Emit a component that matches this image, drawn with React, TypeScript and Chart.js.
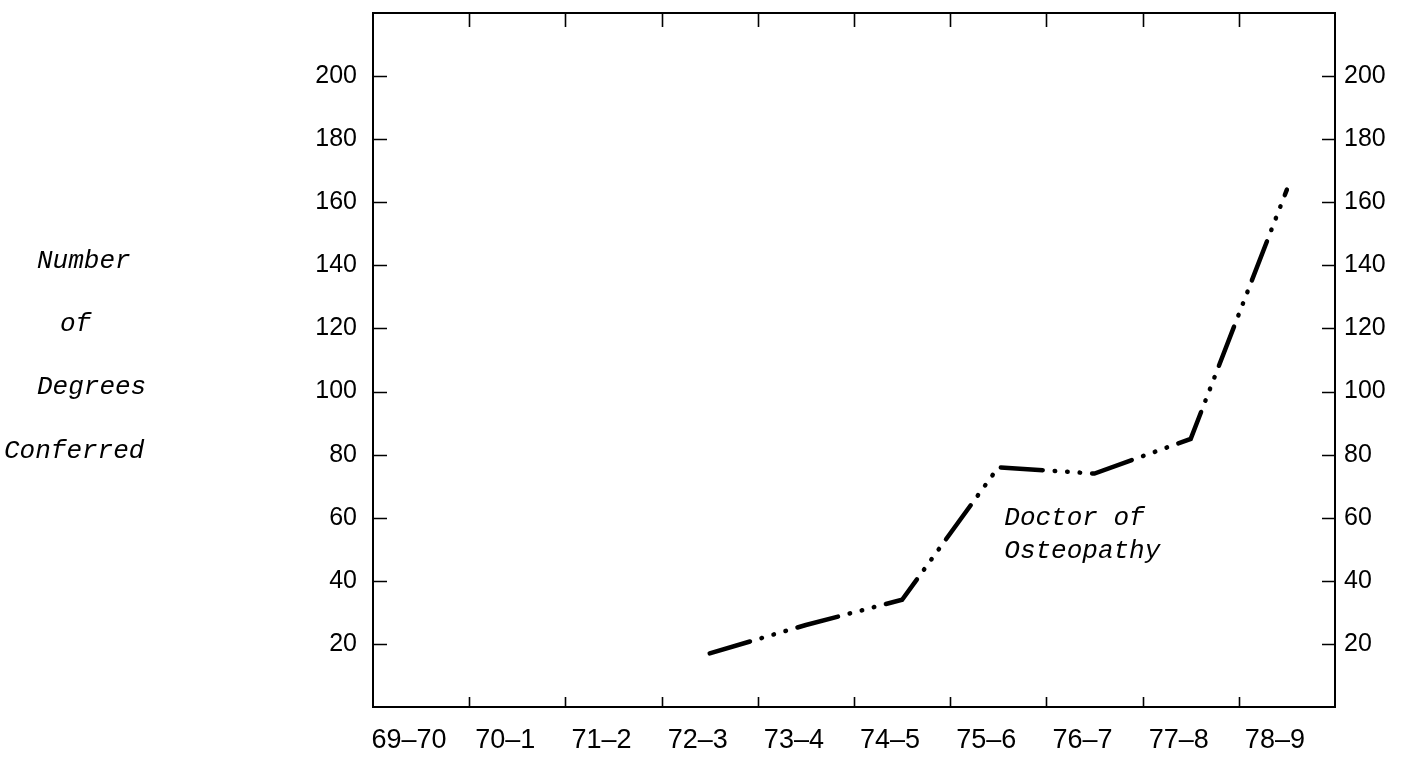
import React, { useEffect, useRef } from "react";
import { Chart, registerables } from "chart.js";

Chart.register(...registerables);

const CATEGORIES: string[] = ["69–70", "70–1", "71–2", "72–3", "73–4", "74–5", "75–6", "76–7", "77–8", "78–9"];
const DO_DEGREES: (number | null)[] = [null, null, null, 17, 26, 34, 76, 74, 85, 164];
const Y_MIN = 0;
const Y_MAX = 220;
const Y_STEP = 20;
const AXIS_TITLE_LINES: string[] = ["Number", "of", "Degrees", "Conferred"];
const ANNOTATION_LINES: string[] = ["Doctor of", "Osteopathy"];
const ANNOTATION_AT = { category: 6, value: 60 };

const Y_TICK_FONT = { family: "'Liberation Sans', Arial, sans-serif", size: 25 };
const X_TICK_FONT = { family: "'Liberation Sans', Arial, sans-serif", size: 27 };
const ITALIC_FONT = "italic 26px 'Liberation Mono', 'DejaVu Sans Mono', monospace";

const framePlugin = {
  id: "framePlugin",
  afterDraw(chart: any) {
    const { ctx, chartArea } = chart;
    const x = chart.scales.x;
    const y = chart.scales.y;
    ctx.save();
    ctx.strokeStyle = "#000";
    ctx.lineWidth = 2;
    ctx.strokeRect(chartArea.left, chartArea.top, chartArea.right - chartArea.left, chartArea.bottom - chartArea.top);
    ctx.lineWidth = 1.6;
    ctx.beginPath();
    y.ticks.forEach((t: any) => {
      if (t.value <= Y_MIN || t.value >= Y_MAX) return;
      const py = Math.round(y.getPixelForValue(t.value)) + 0.5;
      ctx.moveTo(chartArea.left, py);
      ctx.lineTo(chartArea.left + 14, py);
      ctx.moveTo(chartArea.right, py);
      ctx.lineTo(chartArea.right - 13, py);
    });
    for (let i = 1; i < CATEGORIES.length; i++) {
      const px = Math.round((x.getPixelForValue(i - 1) + x.getPixelForValue(i)) / 2) + 0.5;
      ctx.moveTo(px, chartArea.top);
      ctx.lineTo(px, chartArea.top + 14);
      ctx.moveTo(px, chartArea.bottom);
      ctx.lineTo(px, chartArea.bottom - 10);
    }
    ctx.stroke();

    ctx.fillStyle = "#000";
    ctx.font = ITALIC_FONT;
    ctx.textBaseline = "middle";
    ctx.textAlign = "left";
    const ax = x.getPixelForValue(ANNOTATION_AT.category) + 6;
    const ay = y.getPixelForValue(ANNOTATION_AT.value);
    ANNOTATION_LINES.forEach((line, i) => {
      ctx.fillText(line, ax, ay + i * 33);
    });
    const titleX = [37, 60, 37, 4];
    const titleVals = [140, 120, 100, 80];
    AXIS_TITLE_LINES.forEach((line, i) => {
      ctx.fillText(line, titleX[i], y.getPixelForValue(titleVals[i]) - 4);
    });
    ctx.restore();
  },
};

export default function App() {
  const ref = useRef<HTMLCanvasElement | null>(null);
  useEffect(() => {
    if (!ref.current) return;
    const hideEnds = (v: any) => (v <= Y_MIN || v >= Y_MAX ? "" : String(v));
    const chart = new Chart(ref.current, {
      type: "line",
      data: {
        labels: CATEGORIES,
        datasets: [
          {
            label: "Doctor of Osteopathy",
            data: DO_DEGREES,
            borderColor: "#000",
            borderWidth: 4.5,
            borderCapStyle: "round",
            borderDash: [42, 12, 0.5, 12, 0.5, 12, 0.5, 12],
            pointRadius: 0,
            tension: 0,
            spanGaps: false,
            fill: false,
          },
        ],
      },
      options: {
        responsive: false,
        animation: false,
        devicePixelRatio: 1,
        layout: { padding: { top: 13, left: 0, right: 0, bottom: 0 } },
        plugins: { legend: { display: false }, tooltip: { enabled: false } },
        scales: {
          x: {
            type: "category",
            offset: true,
            grid: { display: false, drawTicks: false },
            border: { display: false },
            ticks: {
              color: "#000",
              font: X_TICK_FONT,
              padding: 17,
              labelOffset: -12,
              maxRotation: 0,
              autoSkip: false,
            },
            afterFit: (s: any) => {
              s.height = 50;
              s.paddingLeft = 0;
              s.paddingRight = 0;
            },
          },
          y: {
            position: "left",
            min: Y_MIN,
            max: Y_MAX,
            grid: { display: false, drawTicks: false },
            border: { display: false },
            ticks: { stepSize: Y_STEP, color: "#000", font: Y_TICK_FONT, padding: 16, callback: hideEnds },
            afterFit: (s: any) => {
              s.width = 373;
              s.paddingTop = 0;
              s.paddingBottom = 0;
            },
          },
          y2: {
            position: "right",
            min: Y_MIN,
            max: Y_MAX,
            grid: { display: false, drawTicks: false },
            border: { display: false },
            ticks: { stepSize: Y_STEP, color: "#000", font: Y_TICK_FONT, padding: 9, callback: hideEnds },
            afterFit: (s: any) => {
              s.width = 67;
              s.paddingTop = 0;
              s.paddingBottom = 0;
            },
          },
        },
      },
      plugins: [framePlugin],
    } as any);
    return () => chart.destroy();
  }, []);
  return (
    <div style={{ position: "fixed", left: 0, top: 0, width: 1402, height: 757, background: "#fff" }}>
      <canvas ref={ref} width={1402} height={757} />
    </div>
  );
}
